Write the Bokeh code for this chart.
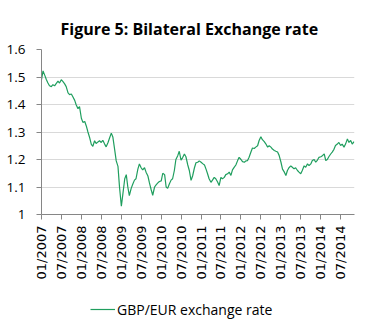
import math
import pandas as pd
from bokeh.plotting import figure
from bokeh.layouts import column
from bokeh.models import (Range1d, FixedTicker, DatetimeTickFormatter, Legend,
                          LegendItem, Title, ColumnDataSource, CustomJSTickFormatter)
from bokeh.embed import file_html
from bokeh.resources import INLINE

# ---- data (semi-monthly readings of GBP/EUR, Jan 2007 - Nov 2014) ----
start_date = "2007-01-01"
rates = [
    1.490, 1.522, 1.505, 1.490, 1.478, 1.468, 1.465, 1.472, 1.468, 1.476, 1.485, 1.478,  # 2007 H1
    1.490, 1.484, 1.475, 1.465, 1.442, 1.436, 1.438, 1.428, 1.415, 1.398, 1.385, 1.392,  # 2007 H2
    1.350, 1.335, 1.338, 1.322, 1.300, 1.282, 1.255, 1.248, 1.268, 1.258, 1.264, 1.268,  # 2008 H1
    1.262, 1.270, 1.256, 1.246, 1.262, 1.278, 1.296, 1.282, 1.235, 1.195, 1.175, 1.100,  # 2008 H2
    1.030, 1.075, 1.130, 1.145, 1.100, 1.069, 1.095, 1.110, 1.125, 1.130, 1.165, 1.184,  # 2009 H1
    1.170, 1.162, 1.170, 1.154, 1.140, 1.115, 1.090, 1.070, 1.100, 1.108, 1.115, 1.120,  # 2009 H2
    1.122, 1.150, 1.145, 1.100, 1.095, 1.110, 1.125, 1.130, 1.160, 1.200, 1.214, 1.230,  # 2010 H1
    1.198, 1.206, 1.220, 1.210, 1.180, 1.160, 1.124, 1.140, 1.170, 1.188, 1.190, 1.195,  # 2010 H2
    1.190, 1.185, 1.180, 1.165, 1.148, 1.130, 1.117, 1.125, 1.135, 1.130, 1.118, 1.105,  # 2011 H1
    1.135, 1.130, 1.135, 1.145, 1.148, 1.154, 1.142, 1.162, 1.172, 1.180, 1.196, 1.208,  # 2011 H2
    1.200, 1.192, 1.190, 1.195, 1.196, 1.208, 1.227, 1.242, 1.240, 1.245, 1.250, 1.269,  # 2012 H1
    1.283, 1.272, 1.265, 1.257, 1.245, 1.250, 1.245, 1.238, 1.233, 1.230, 1.227, 1.215,  # 2012 H2
    1.190, 1.165, 1.154, 1.142, 1.160, 1.170, 1.177, 1.172, 1.166, 1.170, 1.160, 1.154,  # 2013 H1
    1.148, 1.160, 1.177, 1.172, 1.184, 1.178, 1.184, 1.196, 1.200, 1.190, 1.198, 1.208,  # 2013 H2
    1.210, 1.214, 1.220, 1.196, 1.200, 1.210, 1.220, 1.227, 1.237, 1.251, 1.256, 1.262,  # 2014 H1
    1.251, 1.256, 1.245, 1.256, 1.275, 1.262, 1.269, 1.256, 1.265,                      # 2014 H2
]
tick_start = "2007-01-01"
tick_end = "2014-07-01"
y_ticks = [1.0, 1.1, 1.2, 1.3, 1.4, 1.5, 1.6]
title_text = "Figure 5: Bilateral Exchange rate"
series_label = "GBP/EUR exchange rate"

dates = pd.date_range(start_date, periods=len(rates), freq="SMS")
src = ColumnDataSource(dict(date=dates, rate=rates))
tick_dates = pd.date_range(tick_start, tick_end, freq="6MS")
tick_ms = [int(d.value // 10**6) for d in tick_dates]

FONT = "Open Sans"
GREEN = "#1f9e5e"
AXIS = "#868686"

p = figure(width=374, height=292, x_axis_type="datetime",
           output_backend="svg", toolbar_location=None,
           x_range=Range1d(pd.Timestamp("2007-01-01"), pd.Timestamp("2014-11-05")),
           y_range=Range1d(1.0, 1.6),
           min_border_left=41, min_border_right=20, min_border_top=49,
           min_border_bottom=78)
p.outline_line_color = None
p.background_fill_color = "white"
p.border_fill_color = "white"

t = Title(text=title_text, align="left", text_font=FONT,
          text_font_size="16px", text_font_style="bold", text_color="#000000",
          standoff=20, offset=19)
p.add_layout(t, "above")

r = p.line("date", "rate", source=src, line_color=GREEN, line_width=1.2)

# grid
p.xgrid.grid_line_color = None
p.ygrid.grid_line_color = "#d9d9d9"
p.ygrid.ticker = FixedTicker(ticks=y_ticks)

# y axis
ya = p.yaxis[0]
ya.ticker = FixedTicker(ticks=y_ticks)
ya.formatter = CustomJSTickFormatter(code="return (Math.round(tick*10)/10).toString();")
ya.axis_line_color = AXIS
ya.major_tick_line_color = AXIS
ya.major_tick_out = 5
ya.major_tick_in = 0
ya.minor_tick_line_color = None
ya.major_label_text_font = FONT
ya.major_label_text_font_size = "13.5px"
ya.major_label_text_color = "#000000"
ya.major_label_standoff = 11

# x axis
xa = p.xaxis[0]
xa.ticker = FixedTicker(ticks=tick_ms)
xa.formatter = DatetimeTickFormatter(months="%m/%Y", years="%m/%Y", days="%m/%Y")
xa.major_label_orientation = math.pi / 2
xa.axis_line_color = AXIS
xa.major_tick_line_color = AXIS
xa.major_tick_out = 5
xa.major_tick_in = 0
xa.minor_tick_line_color = None
xa.major_label_text_font = "DejaVu Sans"
xa.major_label_text_font_size = "13px"
xa.major_label_text_color = "#000000"
xa.major_label_standoff = 6

# ---- legend strip below the chart ----
lg = figure(width=374, height=39, output_backend="svg", toolbar_location=None,
            x_range=Range1d(0, 1), y_range=Range1d(0, 1),
            min_border=0, x_axis_type=None, y_axis_type=None)
lg.outline_line_color = None
lg.xgrid.grid_line_color = None
lg.ygrid.grid_line_color = None
lg.border_fill_color = "white"
# same series; lies outside this strip's ranges, so only its legend sample shows
r2 = lg.line("date", "rate", source=src, line_color=GREEN, line_width=1.2)
legend = Legend(items=[LegendItem(label=series_label, renderers=[r2])],
                location=(49, 12), orientation="horizontal",
                label_text_font=FONT, label_text_font_size="14px",
                label_text_color="#000000", border_line_color=None,
                background_fill_alpha=0, glyph_width=25, label_standoff=2,
                padding=4, margin=0)
lg.add_layout(legend)

layout = column(p, lg, spacing=0)
open("out.html", "w").write(file_html(layout, INLINE))
